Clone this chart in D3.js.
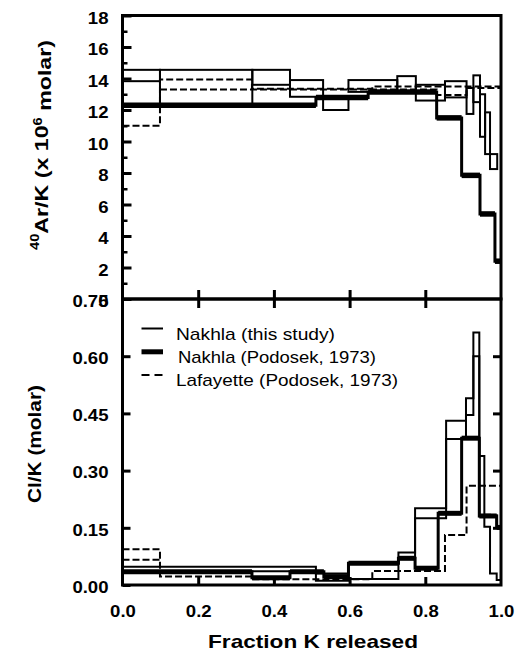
<!DOCTYPE html>
<html>
<head>
<meta charset="utf-8">
<script src="https://cdn.jsdelivr.net/npm/d3@7"></script>
<style>
  html, body { margin: 0; padding: 0; background: #fff; }
  svg { display: block; }
  text { font-family: "Liberation Sans", Arial, sans-serif; fill: #000; }
</style>
</head>
<body>
<div id="chart"></div>
<script>
// ---- data (fraction K released, values) ----
// 40Ar/K, Nakhla (this study): boxes [x0, x1, low, high]
const arThisStudy = [
  [0, 0.099, 13.83, 14.55],
  [0.099, 0.343, 12.3, 14.55],
  [0.343, 0.4425, 13.6, 14.55],
  [0.4425, 0.53, 12.84, 13.9],
  [0.53, 0.597, 12.0, 12.7],
  [0.597, 0.726, 13.15, 13.9],
  [0.726, 0.775, 13.1, 14.15],
  [0.775, 0.852, 12.6, 13.6],
  [0.852, 0.909, 12.8, 13.83],
  [0.909, 0.927, 11.75, 13.4],
  [0.927, 0.9445, 12.5, 14.2],
  [0.9445, 0.958, 10.3, 13.0],
  [0.958, 0.971, 9.2, 11.85],
  [0.971, 0.99, 8.25, 9.2]
];
// 40Ar/K, Nakhla (Podosek, 1973): step edges and values
const arPodosekX = [0, 0.511, 0.649, 0.830, 0.896, 0.9445, 0.984, 1.0];
const arPodosekY = [12.3, 12.8, 13.15, 11.5, 7.85, 5.4, 2.4];
// 40Ar/K, Lafayette (Podosek, 1973)
const arLafX = [0, 0.099, 0.342, 0.66, 1.0];
const arLafY = [11.0, 13.94, 13.35, 13.5];
const arLafX2 = [0.099, 0.83, 0.909, 1.0];
const arLafY2 = [13.3, 12.95, 13.4];

// Cl/K, Nakhla (this study): upper and lower bounds on common steps
const clThisX = [0, 0.511, 0.597, 0.729, 0.773, 0.855, 0.9075, 0.927, 0.9427, 0.956, 0.971, 0.9886, 1.0];
const clThisUpper = [0.048, 0.03, 0.057, 0.085, 0.201, 0.431, 0.49, 0.662, 0.338, 0.184, 0.182, 0.15];
const clThisLower = [0.036, 0.011, 0.016, 0.07, 0.175, 0.383, 0.446, 0.60, 0.18, 0.153, 0.03, 0.013];
// Cl/K, Nakhla (Podosek, 1973)
const clPodosekX = [0, 0.342, 0.4425, 0.532, 0.597, 0.729, 0.773, 0.834, 0.896, 0.9427, 0.9886, 1.0];
const clPodosekY = [0.035, 0.019, 0.035, 0.022, 0.057, 0.07, 0.044, 0.188, 0.385, 0.181, 0.151];
// Cl/K, Lafayette (Podosek, 1973)
const clLafX = [0, 0.099, 0.342, 0.66, 0.852, 0.909, 1.0];
const clLafY = [0.094, 0.022, 0.015, 0.037, 0.131, 0.26];
const clLafX2 = [0, 0.099];
const clLafY2 = [0.066];

// ticks and labels
const arTicks = [0, 2, 4, 6, 8, 10, 12, 14, 16, 18];
const arMinorTicks = [1, 3, 5, 7, 9, 11, 13, 15, 17];
const clTicks = [0, 0.15, 0.30, 0.45, 0.60, 0.75];
const xTicks = [0, 0.2, 0.4, 0.6, 0.8, 1.0];
const legendLabels = ["Nakhla (this study)", "Nakhla (Podosek, 1973)", "Lafayette (Podosek, 1973)"];

// ---- layout ----
const width = 516, height = 652;
const plotLeft = 122.5, plotRight = 501, plotTop = 15.5, plotMid = 299, plotBottom = 585;

const svg = d3.select("#chart").append("svg")
  .attr("width", width)
  .attr("height", height);

const x = d3.scaleLinear().domain([0, 1]).range([plotLeft, plotRight]);
const yAr = d3.scaleLinear().domain([0, 18]).range([plotMid, plotTop]);
const yCl = d3.scaleLinear().domain([0, 0.75]).range([plotBottom, plotMid]);

// stretch text horizontally a bit, the original lettering is wide
function stretchText(sel, sx) {
  sel.selectAll("text").each(function () {
    const tx = +this.getAttribute("x") || 0;
    const ty = +this.getAttribute("y") || 0;
    this.setAttribute("x", 0);
    this.setAttribute("y", 0);
    this.setAttribute("transform", `translate(${tx},${ty}) scale(${sx},1)`);
  });
}

function styleAxis(g, w) {
  g.select(".domain").remove();
  g.selectAll("line").attr("stroke", "#000").attr("stroke-width", w);
  g.selectAll("text")
    .style("font-size", "16px")
    .style("font-weight", "bold");
}

// ---- axes ----
// top panel left: major + minor ticks
const gArL = svg.append("g").attr("transform", `translate(${plotLeft},0)`)
  .call(d3.axisLeft(yAr).tickValues(arTicks).tickSize(-9).tickPadding(14).tickFormat(d3.format("d")));
styleAxis(gArL, 3);
gArL.selectAll("text").attr("dy", "0.48em");
stretchText(gArL, 1.16);

const gArMinor = svg.append("g").attr("transform", `translate(${plotLeft},0)`)
  .call(d3.axisLeft(yAr).tickValues(arMinorTicks).tickSize(-5).tickFormat(""));
styleAxis(gArMinor, 2.5);

// ticks crossing the middle border
const gMidB = svg.append("g").attr("transform", `translate(0,${plotMid})`)
  .call(d3.axisBottom(x).tickValues([0.2, 0.4, 0.6, 0.8]).tickSize(9).tickFormat(""));
styleAxis(gMidB, 3);
const gMidT = svg.append("g").attr("transform", `translate(0,${plotMid})`)
  .call(d3.axisTop(x).tickValues([0.2, 0.4, 0.6, 0.8]).tickSize(9).tickFormat(""));
styleAxis(gMidT, 3);

// bottom panel left / right
const gClL = svg.append("g").attr("transform", `translate(${plotLeft},0)`)
  .call(d3.axisLeft(yCl).tickValues(clTicks).tickSize(-8).tickPadding(14).tickFormat(d3.format(".2f")));
styleAxis(gClL, 3);
gClL.selectAll("text").attr("dy", "0.45em");
stretchText(gClL, 1.16);

const gClR = svg.append("g").attr("transform", `translate(${plotRight},0)`)
  .call(d3.axisRight(yCl).tickValues(clTicks.slice(1, -1)).tickSize(-8).tickFormat(""));
styleAxis(gClR, 3);

// bottom x axis
const gX = svg.append("g").attr("transform", `translate(0,${plotBottom})`)
  .call(d3.axisBottom(x).tickValues(xTicks).tickSize(-8).tickPadding(21).tickFormat(d3.format(".1f")));
styleAxis(gX, 3);
gX.selectAll(".tick").filter(d => d === 0 || d === 1).select("line").remove();
stretchText(gX, 1.16);

// ---- drawing helpers ----
function stepPoints(xs, ys) {
  const pts = ys.map((v, i) => [xs[i], v]);
  pts.push([xs[xs.length - 1], ys[ys.length - 1]]);
  return pts;
}

function drawStep(y, xs, ys, opts) {
  const line = d3.line()
    .x(d => x(d[0]))
    .y(d => y(d[1]))
    .curve(d3.curveStepAfter);
  svg.append("path")
    .datum(stepPoints(xs, ys))
    .attr("d", line)
    .attr("fill", "none")
    .attr("stroke", "#000")
    .attr("stroke-width", opts.width)
    .attr("stroke-dasharray", opts.dash || null);
  if (opts.flatWidth) {
    // the heavy pen is thicker on the flat runs
    svg.append("g").selectAll("line")
      .data(ys.map((v, i) => ({ a: xs[i], b: xs[i + 1], v })))
      .join("line")
      .attr("x1", d => x(d.a))
      .attr("x2", d => x(d.b))
      .attr("y1", d => y(d.v))
      .attr("y2", d => y(d.v))
      .attr("stroke", "#000")
      .attr("stroke-width", opts.flatWidth);
  }
}

function drawBoxes(y, boxes) {
  svg.append("g").selectAll("rect")
    .data(boxes)
    .join("rect")
    .attr("x", d => x(d[0]))
    .attr("y", d => y(d[3]))
    .attr("width", d => x(d[1]) - x(d[0]))
    .attr("height", d => y(d[2]) - y(d[3]))
    .attr("fill", "none")
    .attr("stroke", "#000")
    .attr("stroke-width", 2);
}

// ---- top panel: 40Ar/K ----
drawStep(yAr, arLafX, arLafY, { width: 2, dash: "7,3" });
drawStep(yAr, arLafX2, arLafY2, { width: 2, dash: "7,3" });
drawStep(yAr, arPodosekX, arPodosekY, { width: 3, flatWidth: 5.5 });
drawBoxes(yAr, arThisStudy);

// ---- bottom panel: Cl/K ----
drawStep(yCl, clLafX, clLafY, { width: 2, dash: "7,3" });
drawStep(yCl, clLafX2, clLafY2, { width: 2, dash: "7,3" });
drawStep(yCl, clPodosekX, clPodosekY, { width: 3, flatWidth: 5 });
drawStep(yCl, clThisX, clThisUpper, { width: 2 });
drawStep(yCl, clThisX, clThisLower, { width: 2 });

// ---- frames ----
svg.append("rect")
  .attr("x", plotLeft).attr("y", yAr(18))
  .attr("width", plotRight - plotLeft).attr("height", plotMid - yAr(18))
  .attr("fill", "none").attr("stroke", "#000").attr("stroke-width", 3);
svg.append("rect")
  .attr("x", plotLeft).attr("y", plotMid)
  .attr("width", plotRight - plotLeft).attr("height", plotBottom - plotMid)
  .attr("fill", "none").attr("stroke", "#000").attr("stroke-width", 3);

// ---- legend ----
const legendStyles = [
  { width: 2, dash: null, len: 159 },
  { width: 5, dash: null, len: 198 },
  { width: 2, dash: "8,5", len: 222 }
];
const legend = svg.append("g");
legendLabels.forEach((label, i) => {
  const ly = 328.5 + i * 23.3;
  const st = legendStyles[i];
  legend.append("line")
    .attr("x1", 141.5).attr("x2", 163)
    .attr("y1", ly).attr("y2", ly)
    .attr("stroke", "#000")
    .attr("stroke-width", st.width)
    .attr("stroke-dasharray", st.dash);
  legend.append("text")
    .attr("x", i === 1 ? 178 : 176)
    .attr("y", ly + 11)
    .attr("textLength", st.len)
    .attr("lengthAdjust", "spacingAndGlyphs")
    .style("font-size", "17px")
    .text(label);
});

// ---- axis titles ----
const arTitle = svg.append("text")
  .attr("transform", "translate(44.5,145) rotate(-90)")
  .attr("text-anchor", "middle")
  .style("font-size", "19px")
  .style("font-weight", "bold");
arTitle.append("tspan").attr("dy", "-0.45em").style("font-size", "12px").text("40");
arTitle.append("tspan").attr("dy", "0.45em").text("Ar/K (x 10");
arTitle.append("tspan").attr("dy", "-0.45em").style("font-size", "12px").text("6");
arTitle.append("tspan").attr("dy", "0.45em").text(" molar)");
arTitle.attr("textLength", 210).attr("lengthAdjust", "spacingAndGlyphs");

svg.append("text")
  .attr("transform", "translate(41,444) rotate(-90)")
  .attr("text-anchor", "middle")
  .attr("textLength", 118)
  .attr("lengthAdjust", "spacingAndGlyphs")
  .style("font-size", "19px")
  .style("font-weight", "bold")
  .text("Cl/K (molar)");

svg.append("text")
  .attr("x", 313)
  .attr("y", 648)
  .attr("text-anchor", "middle")
  .attr("textLength", 210)
  .attr("lengthAdjust", "spacingAndGlyphs")
  .style("font-size", "19px")
  .style("font-weight", "bold")
  .text("Fraction K released");
</script>
</body>
</html>
